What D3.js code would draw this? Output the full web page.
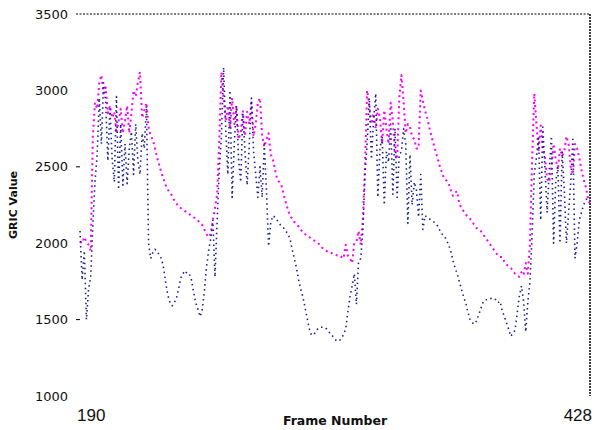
<!DOCTYPE html>
<html>
<head>
<meta charset="utf-8">
<script src="https://cdn.jsdelivr.net/npm/d3@7"></script>
<style>
  body { margin: 0; background: #fff; }
  svg { display: block; }
</style>
</head>
<body>
<svg id="chart" width="602" height="430"></svg>
<script>
// x categories: one value per frame
const firstFrame = 190;
const lastFrame = 428;
const yTicks = [3500, 3000, 2500, 2000, 1500, 1000];

// GRIC per frame, dark blue dotted series (frames 190..428)
const blueGric = [
  2080,1760,1950,1500,1700,1780,2120,2400,2580,2950, // 190
  2650,3050,2920,2540,2880,2550,2400,2960,2350,2780, // 200
  2380,2650,2390,2620,2730,2450,2780,2540,2450,2720, // 210
  2620,2900,2000,1900,1940,1960,1950,1920,1900,1840, // 220
  1740,1660,1610,1590,1610,1640,1700,1770,1800,1820, // 230
  1800,1800,1760,1680,1610,1570,1520,1560,1680,1840, // 240
  1950,2030,2150,1780,2150,2480,2700,3150,2750,2450, // 250
  3000,2300,2650,2900,2550,2400,2850,2600,2380,2650, // 260
  2950,2600,2450,2300,2500,2300,2650,2350,1980,2130, // 270
  2180,2170,2150,2130,2110,2100,2080,2060,2030,1960, // 280
  1900,1840,1760,1700,1650,1580,1510,1440,1400,1400, // 290
  1420,1440,1450,1450,1450,1440,1420,1410,1390,1370, // 300
  1360,1360,1380,1400,1440,1550,1650,1720,1800,1600, // 310
  1880,1900,2080,2450,2650,2950,2550,2800,2980,2300, // 320
  2620,2700,2250,2600,2530,2780,2320,2750,2300,2580, // 330
  2600,2750,2650,2130,2580,2250,2400,2350,2170,2450, // 340
  2090,2180,2170,2160,2150,2140,2130,2110,2080,2060, // 350
  2050,2020,1990,1950,1890,1840,1800,1750,1700,1650, // 360
  1610,1550,1500,1480,1470,1490,1530,1570,1610,1630, // 370
  1630,1630,1640,1640,1630,1610,1620,1560,1520,1480, // 380
  1440,1390,1410,1430,1540,1650,1720,1620,1420,1620, // 390
  1750,2060,2450,2560,2700,2150,2760,2480,2200,2480, // 400
  2700,2000,2400,2500,2000,2600,2350,2000,2200,2400, // 410
  2680,1900,2000,2150,2200,2250,2280,2300,2290       // 420
];

// GRIC per frame, magenta dashed series (frames 190..428)
const pinkGric = [
  2010,2000,2040,2010,1990,1950,2700,2920,2880,3050, // 190
  3100,2980,3020,2850,2900,2820,2860,2720,2800,2880, // 200
  2720,2800,2900,2720,2850,3000,2960,3050,3120,2820, // 210
  2870,2920,2760,2700,2680,2620,2560,2510,2460,2420, // 220
  2380,2350,2330,2310,2280,2260,2240,2230,2220,2210, // 230
  2200,2190,2180,2170,2160,2150,2130,2120,2090,2060, // 240
  2040,2060,2150,2230,2320,2680,3120,2950,2800,2900, // 250
  2750,2950,2780,2900,2680,2720,2870,2700,2860,2780, // 260
  2920,2700,2780,2920,2950,2700,2630,2680,2720,2580, // 270
  2550,2480,2420,2400,2380,2320,2270,2220,2180,2160, // 280
  2140,2120,2110,2090,2070,2060,2050,2040,2030,2020, // 290
  2010,2000,1990,1970,1960,1950,1940,1940,1930,1930, // 300
  1920,1920,1910,1900,1990,1920,1900,1870,2000,2010, // 310
  2080,1990,2150,2500,3000,2900,2780,2850,2750,2880, // 320
  2820,2650,2870,2750,2650,2920,2800,2580,2550,2950, // 330
  3100,2930,2720,2780,2760,2700,2680,2620,2620,3000, // 340
  2930,2870,2820,2760,2700,2650,2600,2550,2500,2460, // 350
  2420,2410,2390,2350,2310,2330,2340,2260,2230,2210, // 360
  2190,2170,2160,2140,2120,2100,2090,2080,2060,2040, // 370
  2020,2000,1980,1960,1940,1920,1910,1910,1880,1860, // 380
  1850,1840,1820,1800,1790,1780,1810,1790,1870,1800, // 390
  2000,2550,2980,2780,2600,2770,2620,2560,2420,2400, // 400
  2500,2650,2550,2480,2620,2570,2600,2700,2650,2500, // 410
  2450,2650,2620,2560,2480,2420,2370,2300,2250       // 420
];

const frames = d3.range(firstFrame, lastFrame + 1);

const plotLeft = 80, plotRight = 590, plotTop = 14, plotBottom = 396;

const svg = d3.select("#chart");

const x = d3.scaleLinear().domain([firstFrame, lastFrame]).range([plotLeft, plotRight]);
const y = d3.scaleLinear().domain([1000, 3500]).range([plotBottom, plotTop]);

// frame: dashed top edge and right edge, no left / bottom lines
svg.append("line")
    .attr("x1", plotLeft - 4).attr("x2", plotRight)
    .attr("y1", y(3500)).attr("y2", y(3500))
    .attr("stroke", "#000").attr("stroke-width", 1)
    .attr("stroke-dasharray", "2,1.5");

svg.append("line")
    .attr("x1", plotRight).attr("x2", plotRight)
    .attr("y1", y(3500)).attr("y2", y(1000))
    .attr("stroke", "#000").attr("stroke-width", 1.5)
    .attr("stroke-dasharray", "2,1");

// y tick labels
svg.append("g").selectAll("text").data(yTicks).enter().append("text")
    .attr("x", 68)
    .attr("y", d => y(d))
    .attr("dy", "0.36em")
    .attr("text-anchor", "end")
    .style("font-family", "'DejaVu Sans', sans-serif")
    .style("font-size", "13px")
    .style("fill", "#111")
    .text(d => d);

// little tick dashes on every other label
svg.append("g").selectAll("line").data(yTicks.filter((d, i) => i % 2 === 0 && i > 0)).enter().append("line")
    .attr("x1", plotLeft - 4).attr("x2", plotLeft)
    .attr("y1", d => y(d)).attr("y2", d => y(d))
    .attr("stroke", "#000").attr("stroke-width", 1);

// x end labels
svg.append("text")
    .attr("x", x(firstFrame) - 3).attr("y", 421)
    .attr("text-anchor", "start")
    .style("font-family", "'Liberation Sans', Arial, sans-serif")
    .style("font-size", "17px")
    .style("fill", "#111")
    .text(firstFrame);

svg.append("text")
    .attr("x", x(lastFrame) + 2).attr("y", 421)
    .attr("text-anchor", "end")
    .style("font-family", "'Liberation Sans', Arial, sans-serif")
    .style("font-size", "17px")
    .style("fill", "#111")
    .text(lastFrame);

// axis titles
svg.append("text")
    .attr("x", 335).attr("y", 425)
    .attr("text-anchor", "middle")
    .style("font-family", "'DejaVu Sans', sans-serif")
    .style("font-size", "12.5px")
    .style("font-weight", "bold")
    .style("fill", "#111")
    .text("Frame Number");

svg.append("text")
    .attr("transform", "translate(17,205) rotate(-90)")
    .attr("text-anchor", "middle")
    .style("font-family", "'DejaVu Sans', sans-serif")
    .style("font-size", "11px")
    .style("font-weight", "bold")
    .style("fill", "#111")
    .text("GRIC Value");

// series lines
const line = d3.line()
    .x((d, i) => x(frames[i]))
    .y(d => y(d));

svg.append("path")
    .datum(pinkGric)
    .attr("d", line)
    .attr("fill", "none")
    .attr("stroke", "#ff00ff")
    .attr("stroke-width", 2)
    .attr("stroke-linejoin", "round")
    .attr("stroke-dasharray", "2,3.5");

svg.append("path")
    .datum(blueGric)
    .attr("d", line)
    .attr("fill", "none")
    .attr("stroke", "#20208c")
    .attr("stroke-width", 1.6)
    .attr("stroke-linejoin", "round")
    .attr("stroke-dasharray", "1.5,3.5");
</script>
</body>
</html>
